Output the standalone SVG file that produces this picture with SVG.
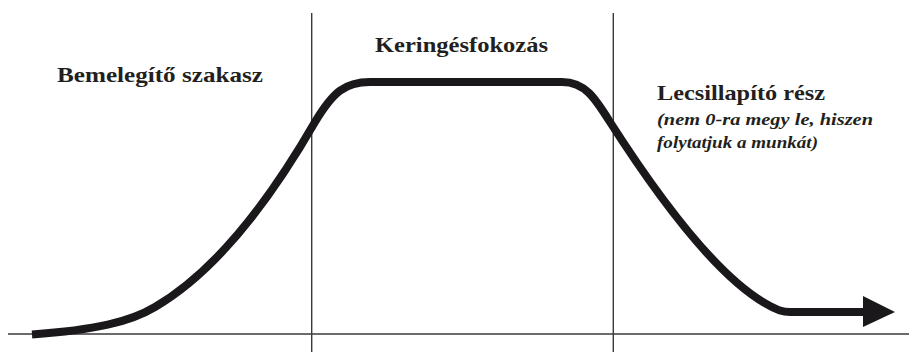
<svg xmlns="http://www.w3.org/2000/svg" width="909" height="352" viewBox="0 0 909 352">
<style>
.axis{stroke:#3a3a3c;stroke-width:1.4;fill:none}
.curve{stroke:#1b181c;stroke-width:8;fill:none;stroke-linejoin:round}
.t{font-family:"Liberation Serif","Times New Roman",serif;font-weight:bold;fill:#231f20}
.h{font-size:22px}
.s{font-size:17px;font-style:italic}
</style>
<rect width="909" height="352" fill="#ffffff"/>
<g id="axes">
<line class="axis" x1="8" y1="334" x2="909" y2="334"/>
<line class="axis" x1="311.7" y1="13" x2="311.7" y2="352"/>
<line class="axis" x1="613.3" y1="13" x2="613.3" y2="352"/>
</g>
<g id="connectors">
<path class="curve" d="M32,334.5 C95,330 130,322 155,307 C215,272 270,200 315,122 C333,92 345,82 370,82 L562,82 C585,82 595,98 610,122 C660,200 720,280 770,306 C778,310 782,312 790,312 L864,312"/>
<polygon points="863,296 895,312 863,327" fill="#1b181c"/>
</g>
<g id="warmup"><text class="t h" x="57" y="82" textLength="206" lengthAdjust="spacingAndGlyphs">Bemelegítő szakasz</text></g>
<g id="circulation"><text class="t h" x="375" y="52" textLength="173" lengthAdjust="spacingAndGlyphs">Keringésfokozás</text></g>
<g id="cooldown">
<text class="t h" x="657" y="100" textLength="168" lengthAdjust="spacingAndGlyphs">Lecsillapító rész</text>
<text class="t s" x="657" y="125" textLength="216" lengthAdjust="spacingAndGlyphs">(nem 0-ra megy le, hiszen</text>
<text class="t s" x="657" y="148" textLength="161" lengthAdjust="spacingAndGlyphs">folytatjuk a munkát)</text>
</g>
</svg>
